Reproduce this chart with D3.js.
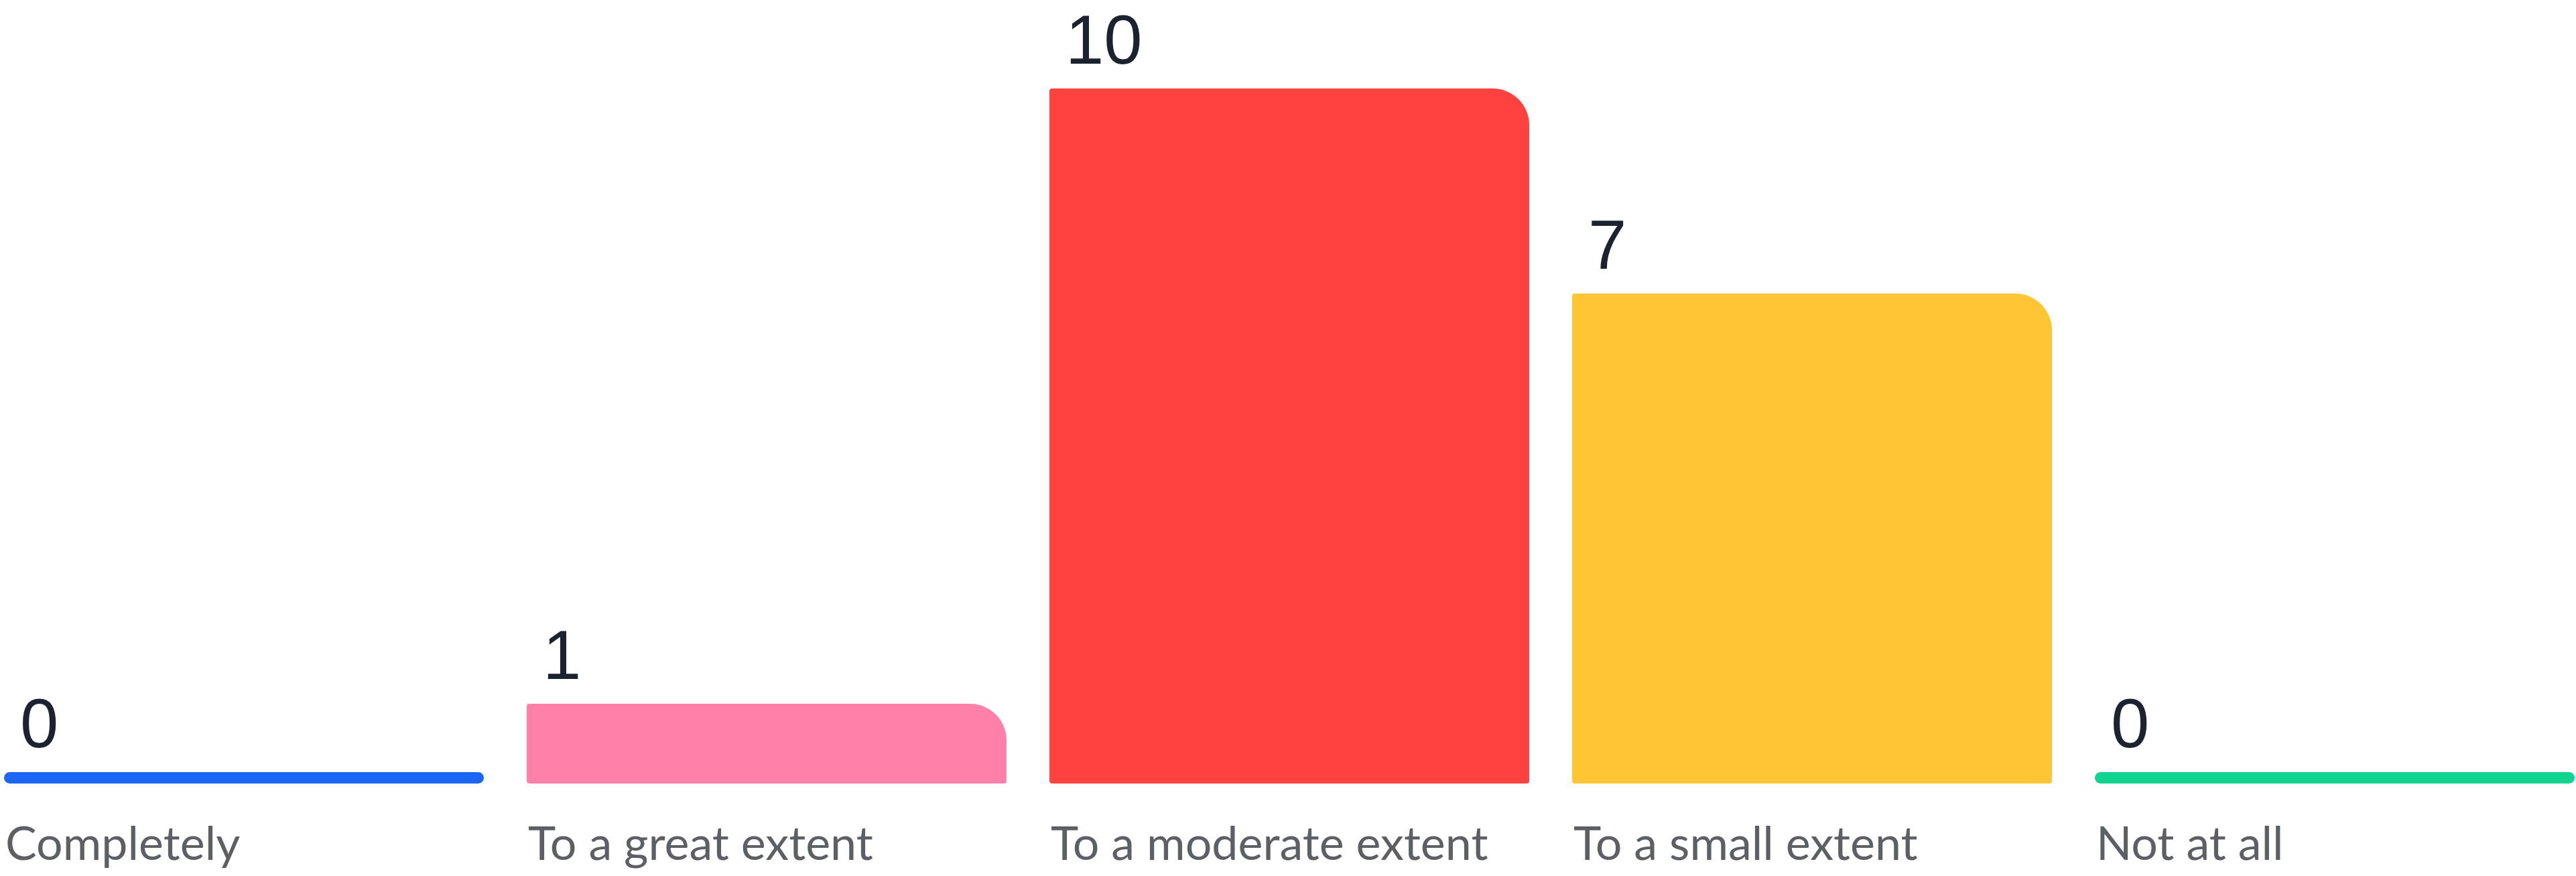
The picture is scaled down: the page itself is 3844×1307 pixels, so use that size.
<!DOCTYPE html>
<html>
<head>
<meta charset="utf-8">
<script src="https://cdn.jsdelivr.net/npm/d3@7"></script>
<style>
  html, body { margin: 0; padding: 0; background: #ffffff; }
  svg { display: block; }
</style>
</head>
<body>
<svg id="chart" width="3844" height="1307"></svg>
<script>
// Survey responses per answer option
const categories = ["Completely", "To a great extent", "To a moderate extent", "To a small extent", "Not at all"];
const counts = [0, 1, 10, 7, 0];
const colors = ["#1b66f3", "#ff80a8", "#ff4140", "#ffc535", "#0fd490"];

const W = 3844, H = 1307;
const baseline = 1169;      // bottom edge of every bar
const minBar = 17;          // height drawn for a zero count

const svg = d3.select("#chart");

const x = d3.scaleBand()
  .domain(categories)
  .range([6, 3842])
  .paddingInner(0.082)
  .paddingOuter(0);

const y = d3.scaleLinear()
  .domain([0, 10])
  .range([baseline - minBar, 132]);

// Bar outline: small radius on three corners, large sweep on the top-right
function barPath(x0, y0, w, h) {
  const rs = Math.min(4, h / 2);
  const rl = Math.min(55, h - rs, w / 2);
  const x1 = x0 + w, y1 = y0 + h;
  return [
    `M${x0},${y0 + rs}`,
    `Q${x0},${y0} ${x0 + rs},${y0}`,
    `L${x1 - rl},${y0}`,
    `A${rl},${rl} 0 0 1 ${x1},${y0 + rl}`,
    `L${x1},${y1 - rs}`,
    `Q${x1},${y1} ${x1 - rs},${y1}`,
    `L${x0 + rs},${y1}`,
    `Q${x0},${y1} ${x0},${y1 - rs}`,
    "Z"
  ].join(" ");
}

const rows = categories.map((c, i) => ({ cat: c, v: counts[i], color: colors[i] }));

const g = svg.append("g");

// Bars (zero counts become a rounded strip)
g.selectAll("path.bar")
  .data(rows.filter(d => d.v > 0))
  .join("path")
  .attr("class", "bar")
  .attr("fill", d => d.color)
  .attr("d", d => barPath(x(d.cat), y(d.v), x.bandwidth(), baseline - y(d.v)));

g.selectAll("rect.zero")
  .data(rows.filter(d => d.v === 0))
  .join("rect")
  .attr("class", "zero")
  .attr("fill", d => d.color)
  .attr("x", d => x(d.cat))
  .attr("y", d => y(d.v))
  .attr("width", x.bandwidth())
  .attr("height", d => baseline - y(d.v))
  .attr("rx", minBar / 2)
  .attr("ry", minBar / 2);

// Count labels above the bars
g.selectAll("text.value")
  .data(rows)
  .join("text")
  .attr("class", "value")
  .attr("x", d => x(d.cat) + 24)
  .attr("y", d => y(d.v) - 37)
  .attr("font-family", "'Liberation Sans', Arial, sans-serif")
  .attr("font-size", 103)
  .attr("fill", "#1d2230")
  .text(d => d.v);

// Category labels under the bars
g.selectAll("text.cat")
  .data(rows)
  .join("text")
  .attr("class", "cat")
  .attr("x", d => x(d.cat) + 2)
  .attr("y", 1283)
  .attr("font-family", "Lato, 'Open Sans', sans-serif")
  .attr("font-size", 70)
  .attr("fill", "#5c5f64")
  .text(d => d.cat);
</script>
</body>
</html>
